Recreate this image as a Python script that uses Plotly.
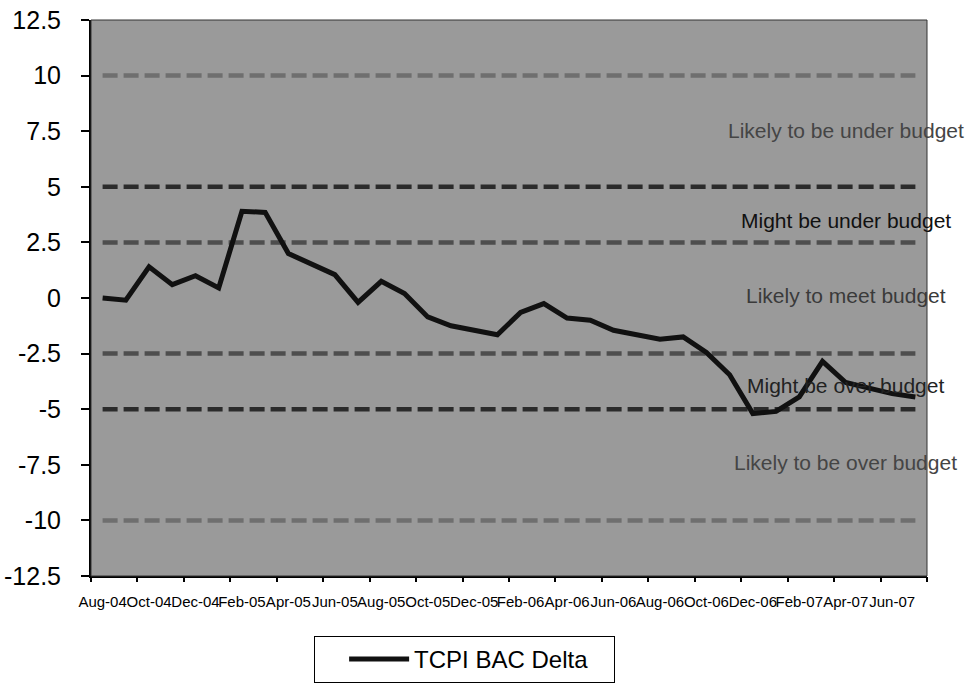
import plotly.graph_objects as go

# Monthly reporting periods, Aug-04 through Jul-07
months = [
    "Aug-04", "Sep-04", "Oct-04", "Nov-04", "Dec-04", "Jan-05", "Feb-05", "Mar-05",
    "Apr-05", "May-05", "Jun-05", "Jul-05", "Aug-05", "Sep-05", "Oct-05", "Nov-05",
    "Dec-05", "Jan-06", "Feb-06", "Mar-06", "Apr-06", "May-06", "Jun-06", "Jul-06",
    "Aug-06", "Sep-06", "Oct-06", "Nov-06", "Dec-06", "Jan-07", "Feb-07", "Mar-07",
    "Apr-07", "May-07", "Jun-07", "Jul-07",
]

# TCPI BAC delta per month
tcpi_bac_delta = [
    0.0, -0.1, 1.4, 0.6, 1.0, 0.45, 3.9, 3.85, 2.0, 1.55, 1.05, -0.2,
    0.75, 0.2, -0.85, -1.25, -1.45, -1.65, -0.65, -0.25, -0.9, -1.0, -1.45, -1.65,
    -1.85, -1.75, -2.45, -3.45, -5.2, -5.1, -4.45, -2.85, -3.8, -4.05, -4.3, -4.45,
]

# Threshold bands drawn as constant dashed series
threshold_levels = [10, 5, 2.5, -2.5, -5, -10]
threshold_colors = ["#6f6f6f", "#2b2b2b", "#4e4e4e", "#4e4e4e", "#2b2b2b", "#6f6f6f"]

# Band captions and the level each one sits at
band_labels = [
    "Likely to be under budget",
    "Might be under budget",
    "Likely to meet budget",
    "Might be over budget",
    "Likely to be over budget",
]
band_label_levels = [7.55, 3.5, 0.1, -3.95, -7.4]
band_label_colors = ["#454545", "#111111", "#3a3a3a", "#222222", "#454545"]

y_ticks = [-12.5, -10, -7.5, -5, -2.5, 0, 2.5, 5, 7.5, 10, 12.5]
x_label_months = months[::2]

FONT = "Liberation Sans, Arial, sans-serif"

fig = go.Figure()

for level, color in zip(threshold_levels, threshold_colors):
    fig.add_trace(go.Scatter(
        x=months, y=[level] * len(months), mode="lines",
        line=dict(color=color, width=4.5, dash="15px,6px"),
        showlegend=False, hoverinfo="skip",
    ))

fig.add_trace(go.Scatter(
    x=months, y=tcpi_bac_delta, mode="lines", name="TCPI BAC Delta",
    line=dict(color="#111111", width=5),
))

# Invisible trace so the tick-mark overlay axis is created
fig.add_trace(go.Scatter(
    x=[-0.5, len(months) - 0.5], y=[None, None], xaxis="x2",
    showlegend=False, hoverinfo="skip",
))

for text, level, color in zip(band_labels, band_label_levels, band_label_colors):
    fig.add_annotation(
        x=32.0, y=level, xref="x", yref="y", text=text, showarrow=False,
        xanchor="center", yanchor="middle",
        font=dict(family=FONT, size=21, color=color),
    )

n = len(months)
fig.update_layout(
    width=972, height=689,
    margin=dict(l=91, r=45, t=20, b=113, autoexpand=False),
    paper_bgcolor="white",
    plot_bgcolor="#9a9a9a",
    font=dict(family=FONT, color="black"),
    showlegend=True,
    legend=dict(
        orientation="h", entrywidth=195, itemwidth=60, indentation=29,
        xref="container", yref="container",
        x=0.478, y=0.077, xanchor="center", yanchor="top",
        bgcolor="white", bordercolor="black", borderwidth=1,
        font=dict(family=FONT, size=24, color="black"),
    ),
    xaxis=dict(
        type="category", categoryorder="array", categoryarray=months,
        range=[-0.5, n - 0.5], automargin=False,
        tickmode="array", tickvals=x_label_months, ticktext=x_label_months,
        tickangle=0, ticks="", ticklabelstandoff=11,
        showgrid=False, zeroline=False,
        showline=True, linecolor="black", linewidth=2,
        tickfont=dict(family=FONT, size=15, color="black"),
    ),
    xaxis2=dict(
        overlaying="x", anchor="y", side="bottom",
        range=[-0.5, n - 0.5], automargin=False,
        tickmode="array", tickvals=[i - 0.5 for i in range(0, n + 1, 2)],
        ticks="outside", ticklen=5, tickwidth=1.5, tickcolor="black",
        showticklabels=False, showgrid=False, zeroline=False, showline=False,
    ),
    yaxis=dict(
        range=[-12.5, 12.5], automargin=False,
        tickmode="array", tickvals=y_ticks, ticktext=[f"{v:g}" for v in y_ticks],
        ticks="outside", ticklen=8, tickwidth=1.5, tickcolor="black",
        ticklabelstandoff=15,
        showgrid=False, zeroline=False,
        showline=True, linecolor="black", linewidth=2,
        tickfont=dict(family=FONT, size=25, color="black"),
    ),
    shapes=[dict(
        type="rect", xref="paper", yref="paper", x0=0, y0=0, x1=1, y1=1,
        line=dict(color="#333333", width=1), layer="above",
    )],
)

fig.write_html("out.html")
